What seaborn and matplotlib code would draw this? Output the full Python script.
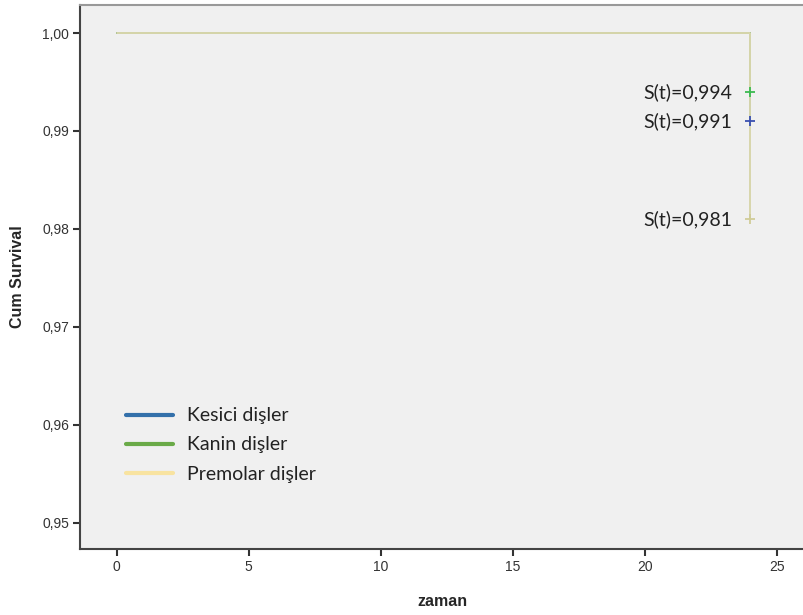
import matplotlib
matplotlib.use("Agg")
import matplotlib.pyplot as plt
from matplotlib.lines import Line2D
from matplotlib.ticker import FuncFormatter
import seaborn as sns
import pandas as pd

# data
groups = ["Kesici dişler", "Kanin dişler", "Premolar dişler"]
times = [0, 24]
surv_kesici = [1.0, 0.991]
surv_kanin = [1.0, 0.994]
surv_premolar = [1.0, 0.981]
censor_time = 24
final_surv = [0.991, 0.994, 0.981]
xticks = [0, 5, 10, 15, 20, 25]
yticks = [0.95, 0.96, 0.97, 0.98, 0.99, 1.00]

line_colors = {"Kesici dişler": "#3a66a8", "Kanin dişler": "#62ad48", "Premolar dişler": "#d8d6ac"}
legend_colors = {"Kesici dişler": "#3370aa", "Kanin dişler": "#6aaa48", "Premolar dişler": "#f8e3a0"}
marker_colors = {"Kesici dişler": "#3a50b0", "Kanin dişler": "#3cba50", "Premolar dişler": "#d0cc98"}

rows = []
for g, s in zip(groups, [surv_kesici, surv_kanin, surv_premolar]):
    for t, v in zip(times, s):
        rows.append({"zaman": t, "surv": v, "grup": g})
df = pd.DataFrame(rows)
cens = pd.DataFrame({"zaman": [censor_time] * 3, "surv": final_surv, "grup": groups})

sns.set_style("white")
plt.rcParams["font.family"] = ["Liberation Sans", "DejaVu Sans"]
fig = plt.figure(figsize=(8.04, 6.15), dpi=100)
ax = fig.add_axes([80 / 804, 1 - 549 / 615, 1 - 80 / 804, (549 - 5) / 615])
ax.set_facecolor("#f0f0f0")

sns.lineplot(data=df, x="zaman", y="surv", hue="grup", palette=line_colors,
             drawstyle="steps-post", linewidth=1.4, legend=False, ax=ax,
             estimator=None, sort=False)
sns.scatterplot(data=cens, x="zaman", y="surv", hue="grup", palette=marker_colors,
                marker="+", s=50, linewidth=1.3, legend=False, ax=ax, zorder=5)

for v in final_surv:
    ax.text(censor_time - 0.7, v, "S(t)=" + f"{v:.3f}".replace(".", ","),
            ha="right", va="center", fontsize=14, family="Lato", color="#222222")

ax.set_xlim(-1.39, 26.03)
ax.set_ylim(0.94731, 1.00286)
ax.set_xticks(xticks)
ax.set_yticks(yticks)
ax.yaxis.set_major_formatter(FuncFormatter(lambda v, p: f"{v:.2f}".replace(".", ",")))
ax.tick_params(axis="both", direction="out", length=5, width=1.5, color="#333333",
               labelsize=10, labelcolor="#333333", bottom=True, left=True, pad=3)

for side in ["left", "bottom"]:
    ax.spines[side].set_color("#444444")
    ax.spines[side].set_linewidth(1.5)
ax.spines["top"].set_color("#999999")
ax.spines["top"].set_linewidth(1.5)
ax.spines["right"].set_visible(False)

ax.set_xlabel("zaman", fontsize=11.5, fontweight="bold", labelpad=14)
ax.set_ylabel("Cum Survival", fontsize=11.5, fontweight="bold", labelpad=12)

handles = [Line2D([0], [0], color=legend_colors[g], linewidth=3) for g in groups]
leg = ax.legend(handles, groups, loc="lower left", bbox_to_anchor=(0.04, 0.09),
                frameon=False, handlelength=2.4, handletextpad=0.7, labelspacing=0.62,
                prop={"family": "Lato", "size": 14})
for t in leg.get_texts():
    t.set_color("#222222")

fig.savefig("out.png", dpi=100)
